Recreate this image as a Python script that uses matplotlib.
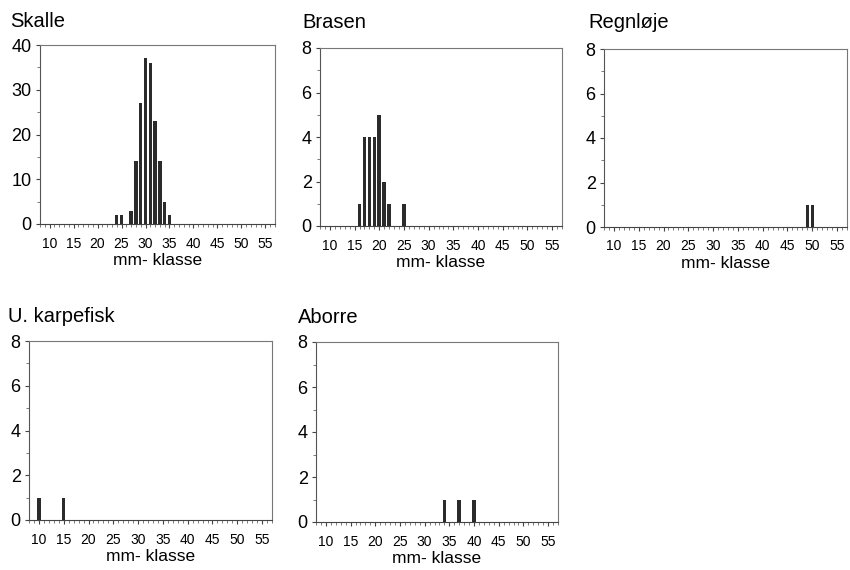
import numpy as np
import matplotlib.pyplot as plt
from matplotlib.ticker import MultipleLocator

plt.rcParams['font.family'] = ['Liberation Sans', 'DejaVu Sans']

# mm-klasse og antal for hver art
skalle_mm = [24, 25, 27, 28, 29, 30, 31, 32, 33, 34, 35]
skalle_n = [2, 2, 3, 14, 27, 37, 36, 23, 14, 5, 2]

brasen_mm = [16, 17, 18, 19, 20, 21, 22, 25]
brasen_n = [1, 4, 4, 4, 5, 2, 1, 1]

regnloje_mm = [49, 50]
regnloje_n = [1, 1]

karpefisk_mm = [10, 15]
karpefisk_n = [1, 1]

aborre_mm = [34, 37, 40]
aborre_n = [1, 1, 1]

x_ticks = [10, 15, 20, 25, 30, 35, 40, 45, 50, 55]

W, H = 850, 570
fig = plt.figure(figsize=(8.5, 5.7), dpi=100)


def px_axes(left, top, right, bottom):
    return fig.add_axes([left / W, 1 - bottom / H, (right - left) / W, (bottom - top) / H])


panels = [
    ('Skalle', skalle_mm, skalle_n, 40, (40, 45, 275, 224), (10, 27)),
    ('Brasen', brasen_mm, brasen_n, 8, (320, 48, 562, 226), (302, 28)),
    ('Regnløje', regnloje_mm, regnloje_n, 8, (604, 49, 847, 227), (588, 28)),
    ('U. karpefisk', karpefisk_mm, karpefisk_n, 8, (29, 341, 272, 520), (8, 322)),
    ('Aborre', aborre_mm, aborre_n, 8, (316, 342, 558, 522), (298, 323)),
]

for name, mm, n, ymax, box, tpos in panels:
    ax = px_axes(*box)
    ax.bar(mm, n, width=0.72, color='#2b2b2b', zorder=3)
    ax.set_xlim(8, 57)
    ax.set_ylim(0, ymax)
    ax.set_xticks(x_ticks)
    ax.xaxis.set_minor_locator(MultipleLocator(1))
    ax.yaxis.set_major_locator(MultipleLocator(ymax / 4))
    ax.yaxis.set_minor_locator(MultipleLocator(ymax / 8))
    for s in ax.spines.values():
        s.set_color('#777777')
        s.set_linewidth(0.8)
    ax.spines['left'].set_color('#555555')
    ax.spines['bottom'].set_color('#444444')
    ax.tick_params(axis='x', which='major', labelsize=10, length=3, color='#444444', pad=6)
    ax.tick_params(axis='x', which='minor', length=2, color='#666666')
    ax.tick_params(axis='y', which='major', labelsize=13, length=3, color='#444444', pad=3)
    ax.tick_params(axis='y', which='minor', length=2, color='#666666')
    ax.set_xlabel('mm- klasse', fontsize=12.5, labelpad=2)
    fig.text(tpos[0] / W, 1 - tpos[1] / H, name, fontsize=14.5, va='baseline', ha='left')

fig.savefig('out.png', dpi=100)
